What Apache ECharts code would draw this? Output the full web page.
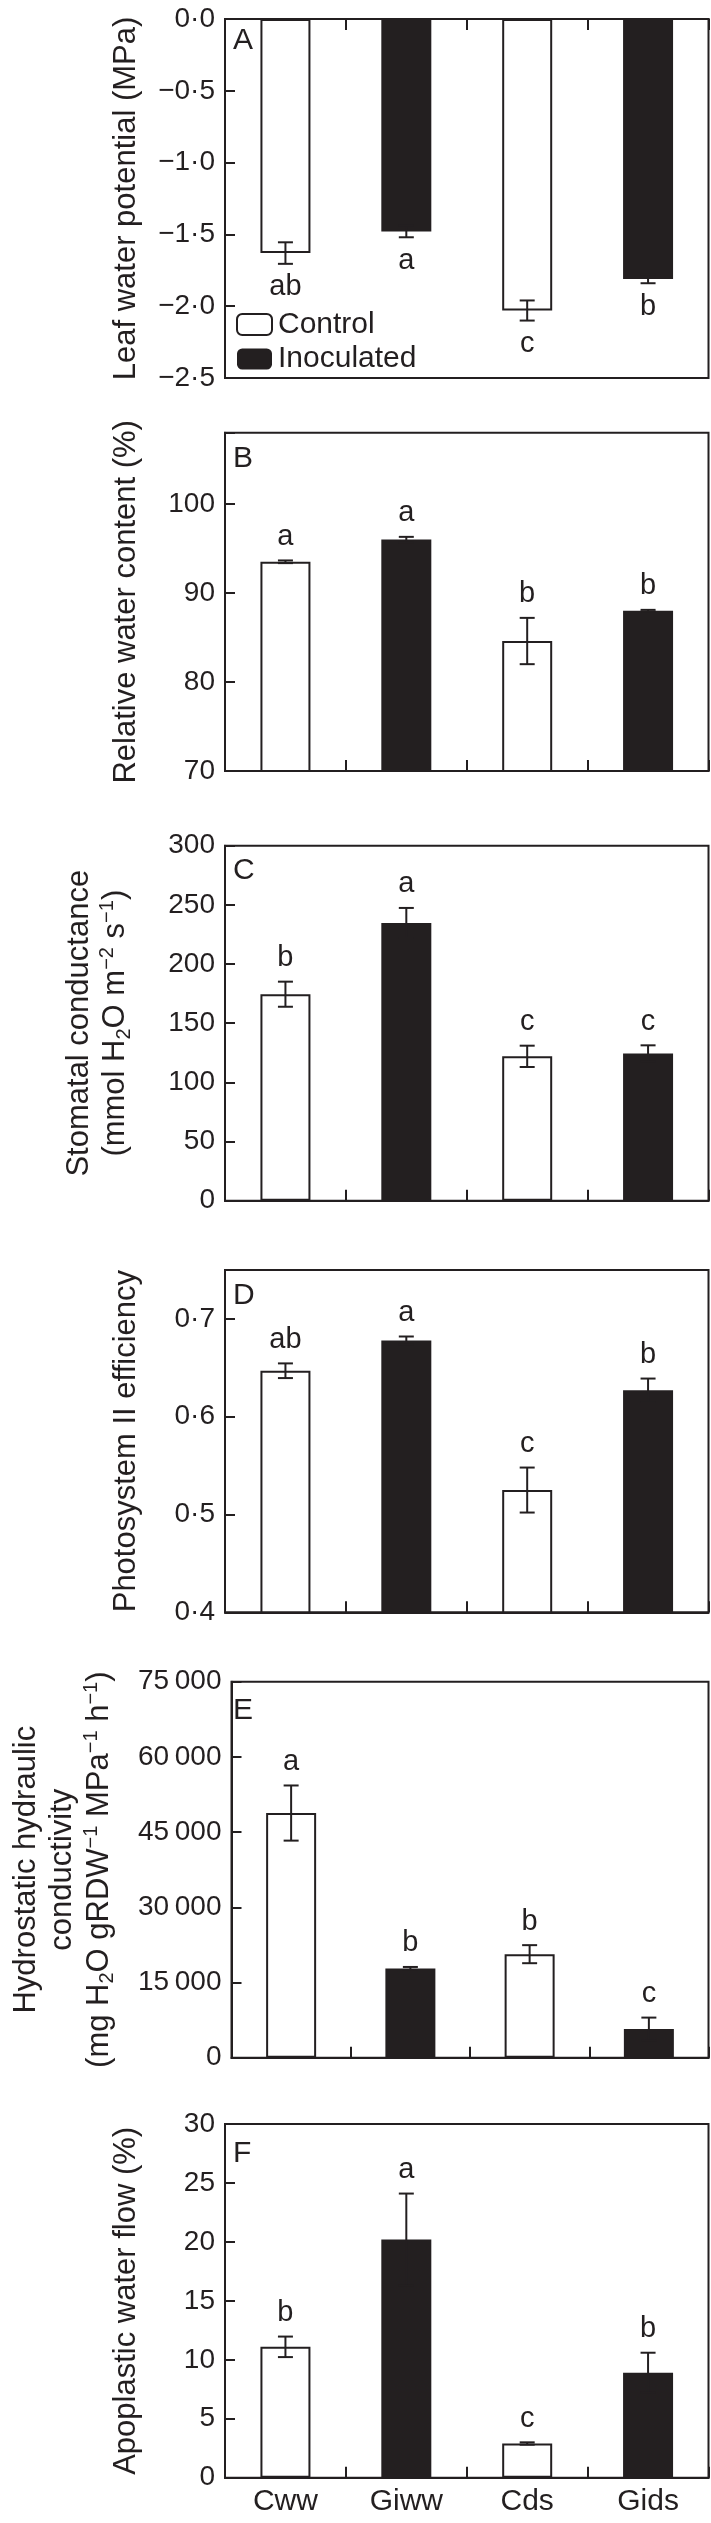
<!DOCTYPE html>
<html><head><meta charset="utf-8">
<script src="https://cdn.jsdelivr.net/npm/echarts@6/dist/echarts.min.js"></script>
<style>html,body{margin:0;padding:0;background:#fff}#c{width:711px;height:2523px}</style>
</head><body><div id="c"></div>
<script>
// ---------- data ----------
const categories = ['Cww', 'Giww', 'Cds', 'Gids'];
const treatment = ['Control', 'Inoculated', 'Control', 'Inoculated'];

const leafWaterPotential = [-1.63, -1.48, -2.03, -1.81];
const leafWaterPotentialErr = [0.075, 0.04, 0.07, 0.03];
const leafWaterPotentialLetters = ['ab', 'a', 'c', 'b'];

const relativeWaterContent = [93.5, 96.0, 84.6, 88.0];
const relativeWaterContentErr = [0.15, 0.3, 2.6, 0.1];
const relativeWaterContentLetters = ['a', 'a', 'b', 'b'];

const stomatalConductance = [174.5, 234.7, 122.0, 124.3];
const stomatalConductanceErr = [10.6, 12.7, 9.0, 7.0];
const stomatalConductanceLetters = ['b', 'a', 'c', 'c'];

const psIIEfficiency = [0.647, 0.678, 0.525, 0.627];
const psIIEfficiencyErr = [0.0075, 0.004, 0.023, 0.012];
const psIIEfficiencyLetters = ['ab', 'a', 'c', 'b'];

const hydraulicConductivity = [48800, 17800, 20650, 5700];
const hydraulicConductivityErr = [5500, 300, 1800, 2300];
const hydraulicConductivityLetters = ['a', 'b', 'b', 'c'];

const apoplasticFlow = [11.1, 20.2, 2.9, 8.9];
const apoplasticFlowErr = [0.87, 3.9, 0.1, 1.7];
const apoplasticFlowLetters = ['b', 'a', 'c', 'b'];

const panelLabels = ['A', 'B', 'C', 'D', 'E', 'F'];

// ---------- style ----------
const INK = '#231f20';
const FONT = '"Liberation Sans", Arial, Helvetica, sans-serif';

function dotFmt(v) { return v.toFixed(1).replace('-', '\u2212').replace('.', '\u00b7'); }
function onGrid(v, min, step) { const k = (v - min) / step; return Math.abs(k - Math.round(k)) < 1e-6; }

const panels = [
  { values: leafWaterPotential, errs: leafWaterPotentialErr, letters: leafWaterPotentialLetters,
    min: -2.5, max: 0, interval: 0.5, fmt: dotFmt, below: true,
    name: 'Leaf water potential (MPa)', nameGap: 80, top: 19, height: 359, labelTop: 26 },
  { values: relativeWaterContent, errs: relativeWaterContentErr, letters: relativeWaterContentLetters,
    min: 70, max: 108, interval: 10, fmt: v => String(Math.round(v)),
    name: 'Relative water content (%)', nameGap: 80, top: 432.7, height: 338.3, labelTop: 444 },
  { values: stomatalConductance, errs: stomatalConductanceErr, letters: stomatalConductanceLetters,
    min: 0, max: 300, interval: 50, fmt: v => String(Math.round(v)),
    name: 'Stomatal conductance\n(mmol H{sub|2}O m{sup|\u22122} s{sup|\u22121})', nameGap: 91, top: 845.7, height: 355, labelTop: 856 },
  { values: psIIEfficiency, errs: psIIEfficiencyErr, letters: psIIEfficiencyLetters,
    min: 0.4, max: 0.75, interval: 0.1, fmt: dotFmt,
    name: 'Photosystem II efficiency', nameGap: 80, top: 1270, height: 342.3, labelTop: 1281 },
  { values: hydraulicConductivity, errs: hydraulicConductivityErr, letters: hydraulicConductivityLetters,
    min: 0, max: 75000, interval: 15000,
    fmt: v => v === 0 ? '0' : (Math.round(v / 1000) + '\u2009000'),
    name: 'Hydrostatic hydraulic\nconductivity\n(mg H{sub|2}O gRDW{sup|\u22121} MPa{sup|\u22121} h{sup|\u22121})', nameGap: 114, top: 1681.7, height: 376, labelTop: 1696 },
  { values: apoplasticFlow, errs: apoplasticFlowErr, letters: apoplasticFlowLetters,
    min: 0, max: 30, interval: 5, fmt: v => String(Math.round(v)),
    name: 'Apoplastic water flow (%)', nameGap: 80, top: 2124, height: 353.7, labelTop: 2139, showX: true }
];

const grid = [], xAxis = [], yAxis = [], series = [], title = [];

function makeErrRender(letters, below) {
  return function (params, api) {
    const i = api.value(0), v = api.value(1), e = api.value(2);
    const hi = api.coord([i, v + e]), lo = api.coord([i, v - e]);
    const x = hi[0], cap = 7.5, ls = { stroke: INK, lineWidth: 2 };
    const ty = below ? lo[1] + 9 : hi[1] - 9;
    return {
      type: 'group',
      children: [
        { type: 'line', shape: { x1: x, y1: hi[1], x2: x, y2: lo[1] }, style: ls },
        { type: 'line', shape: { x1: x - cap, y1: hi[1], x2: x + cap, y2: hi[1] }, style: ls },
        { type: 'line', shape: { x1: x - cap, y1: lo[1], x2: x + cap, y2: lo[1] }, style: ls },
        { type: 'text', style: { text: letters[params.dataIndex], x: x, y: ty,
            align: 'center', verticalAlign: below ? 'top' : 'bottom',
            fontSize: 29, fontFamily: FONT, fill: INK } }
      ]
    };
  };
}

panels.forEach((p, k) => {
  grid.push({ left: 225, width: 483.5, top: p.top, height: p.height, show: true,
    borderColor: INK, borderWidth: 2, backgroundColor: 'transparent' });
  xAxis.push({
    type: 'category', gridIndex: k, data: categories,
    position: p.below ? 'top' : 'bottom',
    axisLine: { show: true, onZero: false, lineStyle: { color: INK, width: 2 } },
    axisTick: { show: true, inside: true, length: 11, lineStyle: { color: INK, width: 2 } },
    axisLabel: { show: !!p.showX, color: INK, fontSize: 30, fontFamily: FONT, margin: 9 }
  });
  yAxis.push({
    type: 'value', gridIndex: k, min: p.min, max: p.max, interval: p.interval,
    splitLine: { show: false },
    axisLine: { show: true, lineStyle: { color: INK, width: 2 } },
    axisTick: { show: true, inside: true, length: 10, lineStyle: { color: INK, width: 2 } },
    axisLabel: { color: INK, fontSize: 28, fontFamily: FONT, margin: 10,
      formatter: v => onGrid(v, p.min, p.interval) ? p.fmt(v) : '' },
    name: p.name, nameLocation: 'middle', nameRotate: 90, nameGap: p.nameGap,
    nameTextStyle: {
      color: INK, fontSize: 31, fontFamily: FONT, lineHeight: 36.5,
      rich: {
        sup: { color: INK, fontSize: 20, fontFamily: FONT, lineHeight: 22, verticalAlign: 'top' },
        sub: { color: INK, fontSize: 20, fontFamily: FONT, lineHeight: 10, verticalAlign: 'bottom' }
      }
    }
  });
  ['Control', 'Inoculated'].forEach(g => {
    const isCtrl = g === 'Control';
    series.push({
      type: 'bar', name: g, xAxisIndex: k, yAxisIndex: k,
      data: p.values.map((v, i) => treatment[i] === g ? v : null),
      barWidth: 50, barGap: '-100%',
      itemStyle: isCtrl ? { color: '#ffffff', borderColor: INK, borderWidth: 2 }
                        : { color: INK, borderColor: INK, borderWidth: 0 },
      emphasis: { disabled: true }, silent: true, z: 2
    });
  });
  series.push({
    type: 'custom', xAxisIndex: k, yAxisIndex: k, z: 5, silent: true,
    renderItem: makeErrRender(p.letters, !!p.below),
    encode: { x: 0, y: 1 },
    data: p.values.map((v, i) => [i, v, p.errs[i]])
  });
  title.push({ text: panelLabels[k], left: 233, top: p.labelTop, padding: 0,
    textStyle: { color: INK, fontSize: 30, fontWeight: 'normal', fontFamily: FONT } });
});

const chart = echarts.init(document.getElementById('c'), null, { renderer: 'canvas', width: 711, height: 2523 });
chart.setOption({
  animation: false,
  backgroundColor: '#ffffff',
  title: title,
  legend: {
    data: ['Control', 'Inoculated'], orient: 'vertical', left: 236, top: 307.5,
    itemWidth: 35, itemHeight: 21, itemGap: 0.5, padding: 0, selectedMode: false,
    textStyle: { color: INK, fontSize: 30, fontFamily: FONT, lineHeight: 34, padding: [0, 0, 0, 1] }
  },
  grid: grid, xAxis: xAxis, yAxis: yAxis, series: series
});
</script></body></html>
